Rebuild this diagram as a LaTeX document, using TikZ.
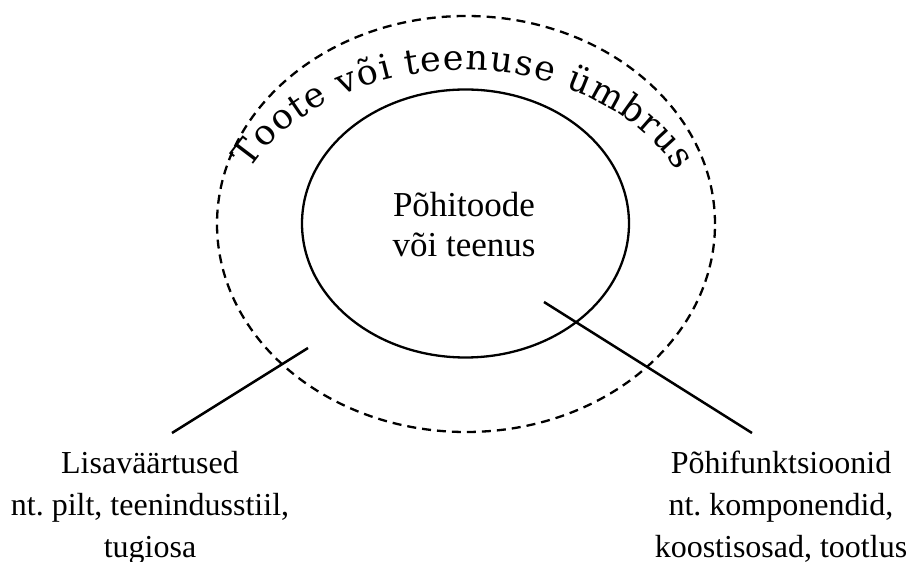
\documentclass[tikz,border=0pt]{standalone}
\usepackage{fontspec}
\setmainfont{Liberation Serif}
\newfontfamily\curvefont{DejaVu Serif}
\usetikzlibrary{shapes.geometric,decorations.text}
\frenchspacing
\begin{document}
\begin{tikzpicture}[x=1pt,y=1pt,
  ring/.style={draw, ellipse, inner sep=0pt, line width=2.3pt},
  lbl/.style={align=center, font=\fontsize{32}{42}\selectfont, inner sep=0pt},
  conn/.style={line width=2.5pt}]
\useasboundingbox (0,0) rectangle (910,562);
\node[ring, dash pattern=on 9pt off 6pt, minimum width=498pt, minimum height=416pt] (env) at (466,338) {};
\node[ring, minimum width=327pt, minimum height=268pt] (core) at (465.5,338.5) {};
\node[lbl, font=\fontsize{35}{40}\selectfont, anchor=base] (coretext) at (464,305) {Põhitoode\\või teenus};
\path[decorate, decoration={text along path, text={|\curvefont\fontsize{35}{35}\selectfont|Toote või teenuse ümbrus}, text align=fit to path}]
  (250,392.3) arc[start angle=153.5, end angle=26, x radius=238, y radius=180];
\node[lbl, anchor=base] (lv) at (150,5) {Lisaväärtused\\nt. pilt, teenindusstiil,\\tugiosa};
\node[lbl, anchor=base] (pf) at (781,5) {Põhifunktsioonid\\nt. komponendid,\\koostisosad, tootlus};
\coordinate (lvin) at (308,214);
\coordinate (lvout) at (172,129);
\coordinate (pfin) at (544,260);
\coordinate (pfout) at (752,129);
\draw[conn] (lvin) -- (lvout);
\draw[conn] (pfin) -- (pfout);
\end{tikzpicture}
\end{document}
